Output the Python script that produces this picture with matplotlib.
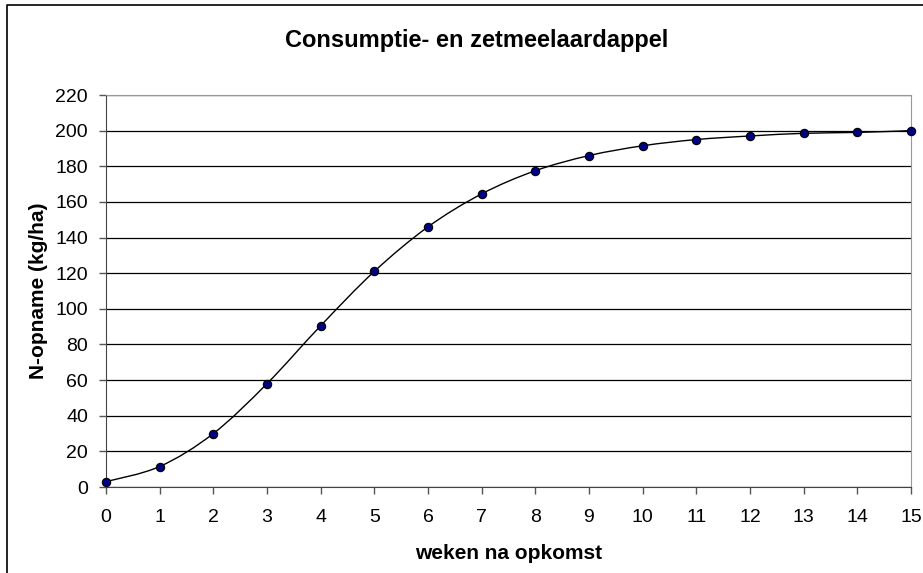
import matplotlib
matplotlib.use("Agg")
import matplotlib.pyplot as plt
from matplotlib.path import Path
from matplotlib.patches import PathPatch
from matplotlib.lines import Line2D

plt.rcParams['font.family'] = ['Liberation Sans', 'DejaVu Sans']

# weeks after emergence and N uptake (kg/ha)
weken = [0, 1, 2, 3, 4, 5, 6, 7, 8, 9, 10, 11, 12, 13, 14, 15]
n_opname = [3, 11.5, 30, 58, 90.5, 121, 146, 164.5, 177.5, 186,
            191.5, 195, 197, 198.5, 199, 200]
y_ticks = list(range(0, 221, 20))

fig = plt.figure(figsize=(9.23, 5.73), dpi=100)
ax = fig.add_axes([106 / 923, 1 - 487 / 573, (911 - 106) / 923, (487 - 95) / 573])

# smoothed line like the spreadsheet (Catmull-Rom style bezier through the points)
verts = [(weken[0], n_opname[0])]
codes = [Path.MOVETO]
n = len(weken)
for i in range(n - 1):
    x0, y0 = weken[max(i - 1, 0)], n_opname[max(i - 1, 0)]
    x1, y1 = weken[i], n_opname[i]
    x2, y2 = weken[i + 1], n_opname[i + 1]
    x3, y3 = weken[min(i + 2, n - 1)], n_opname[min(i + 2, n - 1)]
    c1 = (x1 + (x2 - x0) / 6, y1 + (y2 - y0) / 6)
    c2 = (x2 - (x3 - x1) / 6, y2 - (y3 - y1) / 6)
    verts += [c1, c2, (x2, y2)]
    codes += [Path.CURVE4] * 3
ax.add_patch(PathPatch(Path(verts, codes), facecolor="none", edgecolor="black",
                       lw=1.0, clip_on=False, zorder=3))
ax.plot(weken, n_opname, linestyle="none", marker="o", markersize=6,
        markerfacecolor="#000080", markeredgecolor="black", markeredgewidth=0.8,
        clip_on=False, zorder=4)

ax.set_xlim(0, 15)
ax.set_ylim(0, 220)
ax.set_xticks(weken)
ax.set_yticks(y_ticks)
ax.yaxis.grid(True, color="black", lw=0.9)
ax.set_axisbelow(True)
ax.tick_params(labelsize=14, length=5, width=1, color="#555555", pad=8)
ax.tick_params(axis="x", pad=11)
for s in ["top", "right"]:
    ax.spines[s].set_color("#999999")
for s in ["left", "bottom"]:
    ax.spines[s].set_color("#444444")

ax.set_xlabel("weken na opkomst", fontsize=15, fontweight="bold", labelpad=13)
ax.set_ylabel("N-opname (kg/ha)", fontsize=15, fontweight="bold", labelpad=5)
fig.text(477 / 923, 1 - 41 / 573, "Consumptie- en zetmeelaardappel",
         ha="center", va="center", fontsize=17, fontweight="bold")

# chart area border (partly cut off at right and bottom)
fig.add_artist(Line2D([7.5 / 923, 7.5 / 923, 1], [0, 1 - 5 / 573, 1 - 5 / 573],
                      transform=fig.transFigure, color="black", lw=1.2))

plt.savefig("out.png", dpi=100)
